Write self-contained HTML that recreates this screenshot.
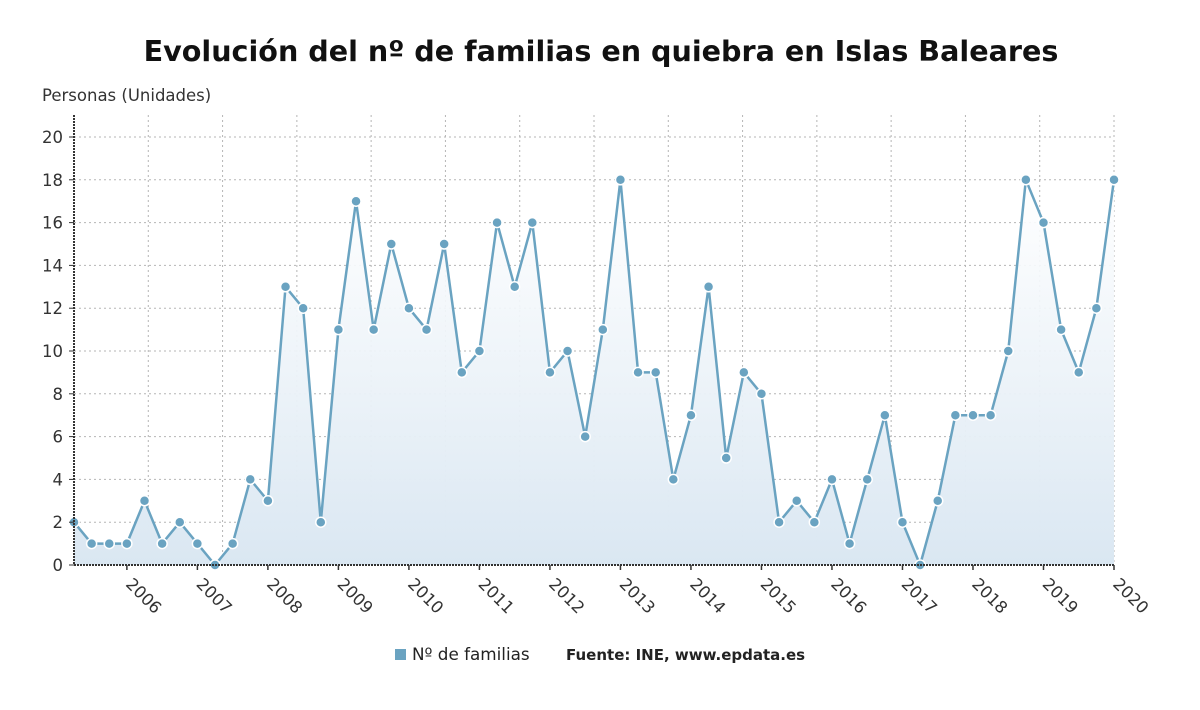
<!DOCTYPE html>
<html><head><meta charset="utf-8">
<style>
html,body{margin:0;padding:0;background:#fff;}
body{width:1200px;height:705px;overflow:hidden;font-family:"Liberation Sans","DejaVu Sans",sans-serif;}
</style></head>
<body>
<svg id="chart" width="1200" height="705" viewBox="0 0 1200 705" xmlns="http://www.w3.org/2000/svg">
<defs>
<linearGradient id="fillg" x1="0" y1="0" x2="0" y2="1">
<stop offset="0" stop-color="#ffffff" stop-opacity="0.9"/>
<stop offset="1" stop-color="#dae7f2"/>
</linearGradient>
</defs>
<text x="601" y="61" text-anchor="middle" font-family="DejaVu Sans, Liberation Sans, sans-serif" font-weight="bold" font-size="28.6" fill="#111">Evolución del nº de familias en quiebra en Islas Baleares</text>
<text x="42" y="101" font-family="DejaVu Sans, Liberation Sans, sans-serif" font-size="16.5" fill="#333">Personas (Unidades)</text>
<g id="grid"></g>
<g id="plot"></g>
<g id="axes"></g>
<g>
<rect x="395" y="649" width="11" height="11" fill="#6aa3c1"/>
<text x="412" y="660" font-family="DejaVu Sans, Liberation Sans, sans-serif" font-size="16.8" fill="#222">Nº de familias</text>
<text x="566" y="660" font-family="DejaVu Sans, Liberation Sans, sans-serif" font-size="15" font-weight="bold" fill="#222">Fuente: INE, www.epdata.es</text>
</g>
</svg>
<script>
const values = [2,1,1,1,3,1,2,1,0,1,4,3,13,12,2,11,17,11,15,12,11,15,9,10,16,13,16,9,10,6,11,18,9,9,4,7,13,5,9,8,2,3,2,4,1,4,7,2,0,3,7,7,7,10,18,16,11,9,12,18];
const yTicks = [0,2,4,6,8,10,12,14,16,18,20];
const yearLabels = ["2006","2007","2008","2009","2010","2011","2012","2013","2014","2015","2016","2017","2018","2019","2020"];
const yearStartIndex = 3;

const X0=74,X1=1114,Y0=565,Y1=137,YMAX=20;
const NS="http://www.w3.org/2000/svg";
function xs(i){return X0+(X1-X0)*i/(values.length-1);}
function ys(v){return Y0-(Y0-Y1)*v/YMAX;}
function mk(tag,attrs,parent){const e=document.createElementNS(NS,tag);for(const k in attrs)e.setAttribute(k,attrs[k]);parent.appendChild(e);return e;}
const grid=document.getElementById('grid'),plot=document.getElementById('plot'),axes=document.getElementById('axes');
const font="DejaVu Sans, Liberation Sans, sans-serif";
yTicks.forEach(t=>{
  if(t>0){const l=mk('line',{x1:X0,x2:X1,y1:ys(t),y2:ys(t),stroke:'#b5b5b5','stroke-dasharray':'2,3'},grid);
  
  }
  const tk=mk('line',{x1:X0-5,x2:X0,y1:ys(t),y2:ys(t),stroke:'#333'},axes);
  
  
  const tx=mk('text',{x:X0-11,y:ys(t)+6,'text-anchor':'end','font-size':16.5,'font-family':font,fill:'#333'},axes);
  tx.textContent=t;
  
  
});
for(let k=1;k<=14;k++){
  const gx=X0+(X1-X0)*k/14;
  const l=mk('line',{x1:gx,x2:gx,y1:Y1-22,y2:Y0,stroke:'#b5b5b5','stroke-dasharray':'2,3'},grid);
  
  
}
let d='M'+xs(0)+','+Y0;
values.forEach((v,i)=>{d+=' L'+xs(i)+','+ys(v);});
d+=' L'+xs(values.length-1)+','+Y0+' Z';
const area=mk('path',{d:d,fill:'url(#fillg)'},plot);


const ln=mk('polyline',{points:values.map((v,i)=>xs(i)+','+ys(v)).join(' '),fill:'none',stroke:'#6aa3c1','stroke-width':2.5,'stroke-linejoin':'round'},plot);


const ya=mk('line',{x1:X0,x2:X0,y1:Y1-22,y2:Y0,stroke:'#333','stroke-width':2,'stroke-dasharray':'2,1'},axes);


const xa=mk('line',{x1:X0,x2:X1,y1:Y0,y2:Y0,stroke:'#333','stroke-width':2,'stroke-dasharray':'2,1'},axes);


yearLabels.forEach((lab,j)=>{
  const tx0=xs(yearStartIndex+4*j);
  const tk=mk('line',{x1:tx0,x2:tx0,y1:Y0,y2:Y0+5,stroke:'#333','stroke-width':1.5},axes);
  
  
  const t=mk('text',{x:tx0-2,y:Y0+20,'font-size':16.5,'font-family':font,fill:'#333',transform:'rotate(45 '+(tx0-2)+' '+(Y0+20)+')'},axes);
  t.textContent=lab;
  
  
});
values.forEach((v,i)=>{
  const c=mk('circle',{cx:xs(i),cy:ys(v),r:5,fill:'#6aa3c1',stroke:'#fff','stroke-width':1.5},plot);
  
  
});
</script>
</body></html>
